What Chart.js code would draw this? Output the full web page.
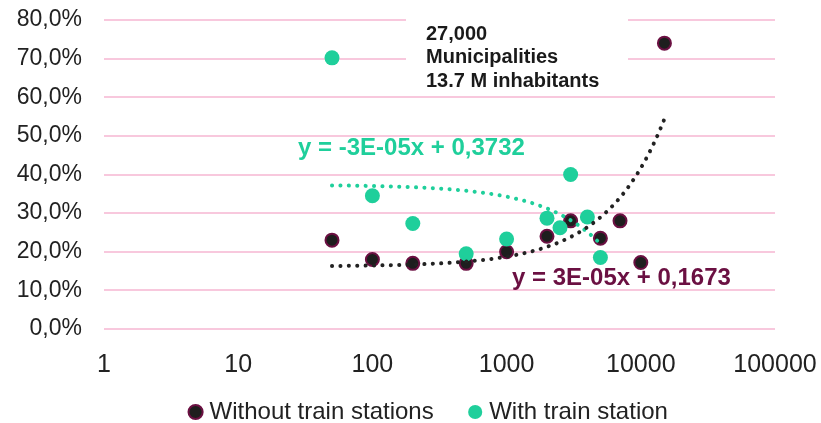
<!DOCTYPE html>
<html>
<head>
<meta charset="utf-8">
<script src="https://cdn.jsdelivr.net/npm/chart.js@4/dist/chart.umd.min.js"></script>
<style>
html, body { margin: 0; padding: 0; background: #fff; }
#wrap { width: 821px; height: 423px; }
</style>
</head>
<body>
<div id="wrap"><canvas id="myChart"></canvas></div>
<script>
// values (x = inhabitants, y = share)
const withoutX = [50, 100, 200, 500, 1000, 2000, 3000, 5000, 7000, 10000, 15000];
const withoutY = [0.23, 0.18, 0.17, 0.17, 0.20, 0.24, 0.28, 0.235, 0.28, 0.172, 0.74];
const withX = [50, 100, 200, 500, 1000, 2000, 2500, 3000, 4000, 5000];
const withY = [0.702, 0.345, 0.273, 0.195, 0.233, 0.287, 0.262, 0.40, 0.29, 0.185];
const xTicks = [1, 10, 100, 1000, 10000, 100000];
const seriesNames = ['Without train stations', 'With train station'];
const trendLabels = ['y = 3E-05x + 0,1673', 'y = -3E-05x + 0,3732'];
const noteLines = ['27,000', 'Municipalities', '13.7 M inhabitants'];

const maroon = '#6b1042';
const teal = '#1fcf9b';
const font = 'Liberation Sans, Arial, sans-serif';

// least squares line, same as the spreadsheet trendline
function linearFit(xs, ys) {
    const n = xs.length;
    const mx = xs.reduce((a, b) => a + b, 0) / n;
    const my = ys.reduce((a, b) => a + b, 0) / n;
    let sxy = 0, sxx = 0;
    for (let i = 0; i < n; i++) {
        sxy += (xs[i] - mx) * (ys[i] - my);
        sxx += (xs[i] - mx) * (xs[i] - mx);
    }
    const slope = sxy / sxx;
    return { slope: slope, intercept: my - slope * mx };
}
function trendPoints(xs, ys) {
    const fit = linearFit(xs, ys);
    const lo = Math.log10(Math.min(...xs)), hi = Math.log10(Math.max(...xs));
    const pts = [];
    for (let i = 0; i <= 80; i++) {
        const x = Math.pow(10, lo + (hi - lo) * i / 80);
        pts.push({ x: x, y: fit.intercept + fit.slope * x });
    }
    return pts;
}
const toPoints = (xs, ys) => xs.map((x, i) => ({ x: x, y: ys[i] }));

const notes = {
    id: 'notes',
    afterLayout(chart) {
        // legend sits a bit right of centre and close to the bottom edge
        const lg = chart.legend;
        lg.left = 40.5;
        lg.top = 360.5;
    },
    beforeDatasetsDraw(chart) {
        const ctx = chart.ctx;
        ctx.save();
        ctx.fillStyle = '#fff';
        ctx.fillRect(406, 8, 222, 64);
        ctx.restore();
    },
    afterDatasetsDraw(chart) {
        const ctx = chart.ctx;
        ctx.save();
        ctx.textBaseline = 'middle';
        ctx.textAlign = 'left';
        ctx.font = 'bold 24px ' + font;
        ctx.fillStyle = teal;
        ctx.fillText(trendLabels[1], 298, 148);
        ctx.fillStyle = maroon;
        ctx.fillText(trendLabels[0], 512, 278);
        ctx.font = 'bold 20px ' + font;
        ctx.fillStyle = '#1a1a1a';
        noteLines.forEach((t, i) => ctx.fillText(t, 426, 34 + i * 23.5));
        ctx.restore();
    }
};

const dotted = { showLine: true, pointRadius: 0, pointHoverRadius: 0, borderWidth: 4,
    borderDash: [0.1, 8.3], borderCapStyle: 'round', tension: 0, fill: false };

const ctx = document.getElementById('myChart').getContext('2d');
const myChart = new Chart(ctx, {
    type: 'scatter',
    data: {
        datasets: [{
            label: seriesNames[0],
            data: toPoints(withoutX, withoutY),
            backgroundColor: '#1e1e1e',
            borderColor: maroon,
            borderWidth: 2,
            pointRadius: 6.5,
            order: 2
        }, {
            label: seriesNames[1],
            data: toPoints(withX, withY),
            backgroundColor: teal,
            borderColor: teal,
            borderWidth: 0,
            pointRadius: 7.5,
            order: 1
        }, Object.assign({
            label: 'trend1',
            data: trendPoints(withoutX, withoutY),
            borderColor: '#222',
            order: 0
        }, dotted), Object.assign({
            label: 'trend2',
            data: trendPoints(withX, withY),
            borderColor: teal,
            order: 0
        }, dotted)]
    },
    options: {
        responsive: true,
        maintainAspectRatio: false,
        animation: false,
        layout: { padding: { top: 20, left: 0, right: 0, bottom: 0 } },
        scales: {
            x: {
                type: 'logarithmic',
                min: 1,
                max: 100000,
                afterBuildTicks: (scale) => { scale.ticks = xTicks.map(v => ({ value: v })); },
                afterFit: (scale) => { scale.height = 43; scale.paddingRight = 46; scale.paddingLeft = 0; },
                grid: { display: false },
                border: { display: false },
                ticks: {
                    autoSkip: false,
                    maxRotation: 0,
                    padding: 13,
                    color: '#222',
                    font: { family: font, size: 25 },
                    callback: (v) => String(v)
                }
            },
            y: {
                min: 0,
                max: 0.8,
                afterFit: (scale) => { scale.width = 104; scale.paddingTop = 0; scale.paddingBottom = 0; },
                grid: { color: '#f8c8dd', lineWidth: 2, drawTicks: false },
                border: { display: false },
                ticks: {
                    stepSize: 0.1,
                    padding: 22,
                    color: '#222',
                    font: { family: font, size: 23 },
                    callback: (v) => (v * 100).toFixed(1).replace('.', ',') + '%'
                }
            }
        },
        plugins: {
            legend: {
                position: 'bottom',
                maxHeight: 51,
                labels: {
                    usePointStyle: true,
                    pointStyle: 'circle',
                    boxWidth: 4,
                    boxHeight: 10,
                    padding: 39.5,
                    color: '#222',
                    font: { family: font, size: 24 },
                    filter: (item) => item.datasetIndex < 2,
                    sort: (a, b) => a.datasetIndex - b.datasetIndex
                }
            },
            tooltip: { enabled: false }
        }
    },
    plugins: [notes]
});
</script>
</body>
</html>
